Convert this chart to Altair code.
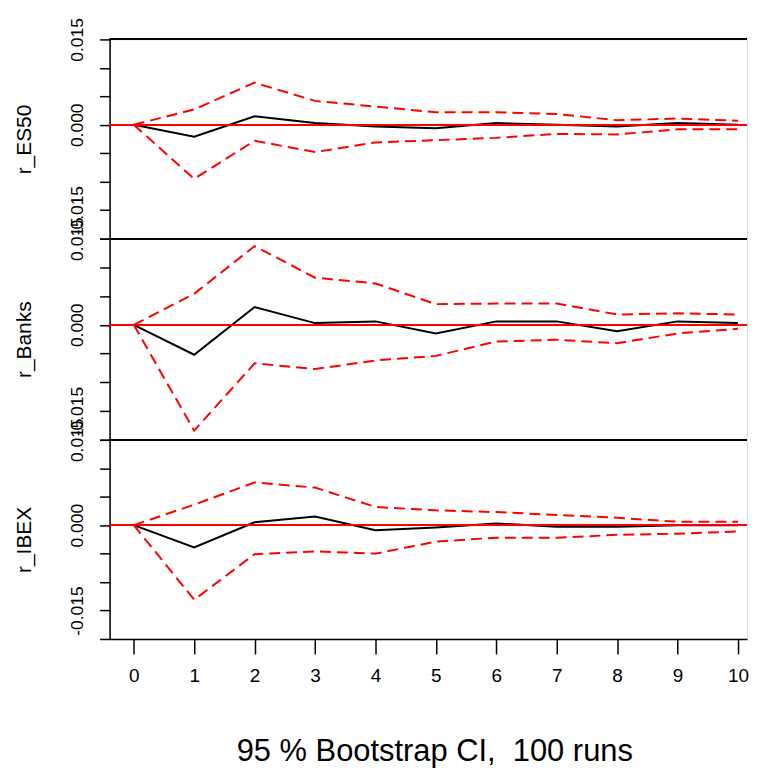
import altair as alt
import pandas as pd

steps = list(range(11))
panel_names = ["r_ES50", "r_Banks", "r_IBEX"]

es50_irf = [0.0, -0.0021, 0.0015, 0.0003, -0.0003, -0.0006, 0.0003, 0.0, -0.0003, 0.0003, 0.0]
es50_hi = [0.0, 0.0027, 0.0074, 0.0042, 0.0032, 0.0022, 0.0022, 0.0019, 0.0008, 0.0011, 0.0007]
es50_lo = [0.0, -0.0095, -0.0028, -0.0048, -0.0031, -0.0027, -0.0023, -0.0016, -0.0017, -0.0008, -0.0008]

banks_irf = [0.0, -0.0052, 0.0031, 0.0003, 0.0006, -0.0015, 0.0006, 0.0006, -0.0011, 0.0006, 0.0003]
banks_hi = [0.0, 0.0054, 0.0137, 0.0082, 0.0072, 0.0036, 0.0037, 0.0037, 0.0018, 0.0020, 0.0018]
banks_lo = [0.0, -0.0184, -0.0067, -0.0077, -0.0062, -0.0054, -0.0029, -0.0026, -0.0032, -0.0015, -0.0007]

ibex_irf = [0.0, -0.0039, 0.0005, 0.0015, -0.0009, -0.0004, 0.0003, -0.0003, -0.0003, 0.0, 0.0]
ibex_hi = [0.0, 0.0036, 0.0075, 0.0066, 0.0032, 0.0026, 0.0023, 0.0018, 0.0013, 0.0006, 0.0006]
ibex_lo = [0.0, -0.0131, -0.0051, -0.0046, -0.0050, -0.0029, -0.0022, -0.0022, -0.0017, -0.0015, -0.0011]

y_ticks = [-0.02, -0.015, -0.01, -0.005, 0.0, 0.005, 0.01, 0.015]
x_title = "95 % Bootstrap CI,\u00a0 100 runs"

FONT = "Liberation Sans"
label_expr = ("datum.value > 0.012 ? '0.015' : (abs(datum.value) < 0.001 ? '0.000' : "
              "((datum.value < -0.012 && datum.value > -0.017) ? '-0.015' : ''))")


def panel(name, irf, lo, hi, height, bottom):
    df = pd.DataFrame({"step": steps, "irf": irf, "lo": lo, "hi": hi})
    xscale = alt.Scale(domain=[-0.4, 10.15], nice=False, zero=False)
    yscale = alt.Scale(domain=[-0.02, 0.015], nice=False, zero=False)
    if bottom:
        xaxis = alt.Axis(values=steps, format="d", tickSize=15, labelPadding=13,
                         labelFontSize=19, labelFont=FONT, labelColor="black",
                         labelFlush=False, labelOverlap=False,
                         domainColor="black", domainWidth=1.5, tickColor="black", tickWidth=1.5,
                         grid=False, title=x_title, titleFont=FONT, titleFontSize=31,
                         titleFontWeight="normal", titleColor="black", titlePadding=51,
                         titleX=326)
    else:
        xaxis = None
    yaxis = alt.Axis(values=y_ticks, labelExpr=label_expr, labelAngle=-90,
                     labelAlign="center", labelBaseline="bottom", labelPadding=13,
                     labelFontSize=17.5, labelFont=FONT, labelColor="black",
                     labelOverlap=False, labelFlush=False,
                     tickSize=10, tickColor="black", tickWidth=1.5,
                     domainColor="black", domainWidth=1.5, grid=False,
                     title=name, titleFont=FONT, titleFontSize=21, titleFontWeight="normal",
                     titleColor="black", titlePadding=34)
    base = alt.Chart(df)
    x = alt.X("step:Q", scale=xscale, axis=xaxis)

    def yenc(field):
        return alt.Y(field, scale=yscale, axis=yaxis)

    irf_line = base.mark_line(color="black", strokeWidth=2).encode(x=x, y=yenc("irf:Q"))
    zero = base.mark_rule(color="red", strokeWidth=1.8).encode(
        y=alt.datum(0, scale=yscale, axis=yaxis))
    hi_line = base.mark_line(color="red", strokeWidth=2, strokeDash=[11, 6]).encode(
        x=x, y=yenc("hi:Q"))
    lo_line = base.mark_line(color="red", strokeWidth=2, strokeDash=[11, 6]).encode(
        x=x, y=yenc("lo:Q"))
    frame = base.mark_rule(color="black", strokeWidth=1.3).encode(y=alt.value(0))
    return alt.layer(irf_line, zero, hi_line, lo_line, frame).properties(width=640, height=height)


chart = alt.vconcat(
    panel("r_ES50", es50_irf, es50_lo, es50_hi, 200, False),
    panel("r_Banks", banks_irf, banks_lo, banks_hi, 202, False),
    panel("r_IBEX", ibex_irf, ibex_lo, ibex_hi, 200, True),
    spacing=0, bounds="flush",
).properties(
    padding={"left": 5, "top": 7, "right": 0, "bottom": 0}
).configure_view(stroke=None).configure_axis(
    labelOverlap=False
).configure(background="white")

chart.save("out.html", embed_options={"renderer": "svg", "actions": False})
